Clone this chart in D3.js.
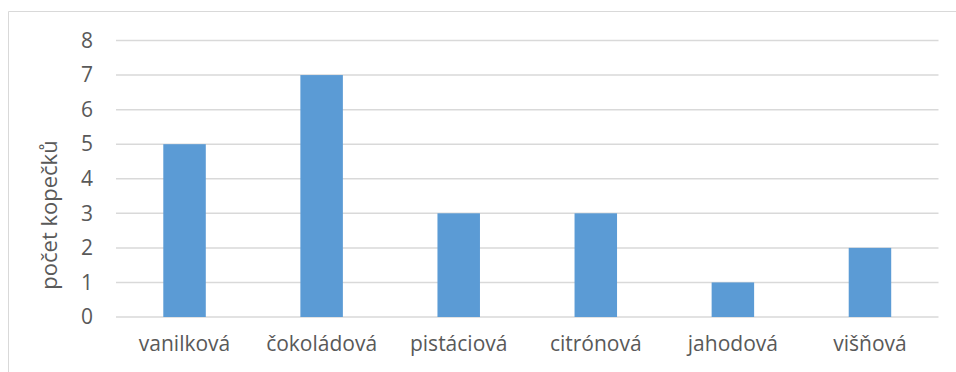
<!DOCTYPE html>
<html>
<head>
<meta charset="utf-8">
<script src="https://cdn.jsdelivr.net/npm/d3@7"></script>
<style>
  body { margin: 0; background: #fff; }
  text { font-family: "Open Sans", "Noto Sans", sans-serif; fill: #595959; }
</style>
</head>
<body>
<div id="chart"></div>
<script>
// data
const categories = ["vanilková", "čokoládová", "pistáciová", "citrónová", "jahodová", "višňová"];
const scoops = [5, 7, 3, 3, 1, 2];
const yTicks = [0, 1, 2, 3, 4, 5, 6, 7, 8];
const yLabel = "počet kopečků";

const width = 956, height = 372;
const margin = { top: 40.5, right: 17.5, bottom: 55, left: 116 };
const innerWidth = width - margin.left - margin.right;
const innerHeight = height - margin.top - margin.bottom;

const svg = d3.select("#chart")
    .append("svg")
    .attr("width", width)
    .attr("height", height);

// light frame (top + left visible)
svg.append("path")
    .attr("d", `M8.5,${height} V11.5 H${width}`)
    .attr("fill", "none")
    .attr("stroke", "#d9d9d9")
    .attr("stroke-width", 1);

const innerChart = svg.append("g")
    .attr("transform", `translate(${margin.left},${margin.top})`);

/* scales */
const xScale = d3.scaleBand()
    .domain(categories)
    .range([0, innerWidth])
    .paddingInner(0.69)
    .paddingOuter(0.345);

const yScale = d3.scaleLinear()
    .domain([0, 8])
    .range([innerHeight, 0]);

/* gridlines */
innerChart.selectAll("line.grid")
    .data(yTicks)
    .join("line")
        .attr("class", "grid")
        .attr("x1", 0)
        .attr("x2", innerWidth)
        .attr("y1", d => yScale(d))
        .attr("y2", d => yScale(d))
        .attr("stroke", "#d9d9d9")
        .attr("stroke-width", 1.5);

/* bars */
innerChart.selectAll("rect")
    .data(scoops)
    .join("rect")
        .attr("x", (d, i) => xScale(categories[i]))
        .attr("y", d => yScale(d))
        .attr("width", xScale.bandwidth())
        .attr("height", d => innerHeight - yScale(d))
        .attr("fill", "#5b9bd5");

/* axes */
const leftAxis = d3.axisLeft(yScale)
    .tickValues(yTicks)
    .tickSize(0)
    .tickPadding(23);

innerChart.append("g")
    .call(leftAxis)
    .call(g => g.select(".domain").remove())
    .call(g => g.selectAll("text")
        .style("font-size", "21px")
        .attr("fill", "#595959"));

const bottomAxis = d3.axisBottom(xScale)
    .tickSize(0)
    .tickPadding(19);

innerChart.append("g")
    .attr("transform", `translate(0,${innerHeight})`)
    .call(bottomAxis)
    .call(g => g.select(".domain").remove())
    .call(g => g.selectAll("text")
        .style("font-size", "21px")
        .attr("fill", "#595959"));

// y-axis label (sits a bit below the plot's middle, like the original)
svg.append("text")
    .text(yLabel)
    .attr("transform", `translate(57,215) rotate(-90)`)
    .attr("text-anchor", "middle")
    .style("font-size", "22px");
</script>
</body>
</html>
